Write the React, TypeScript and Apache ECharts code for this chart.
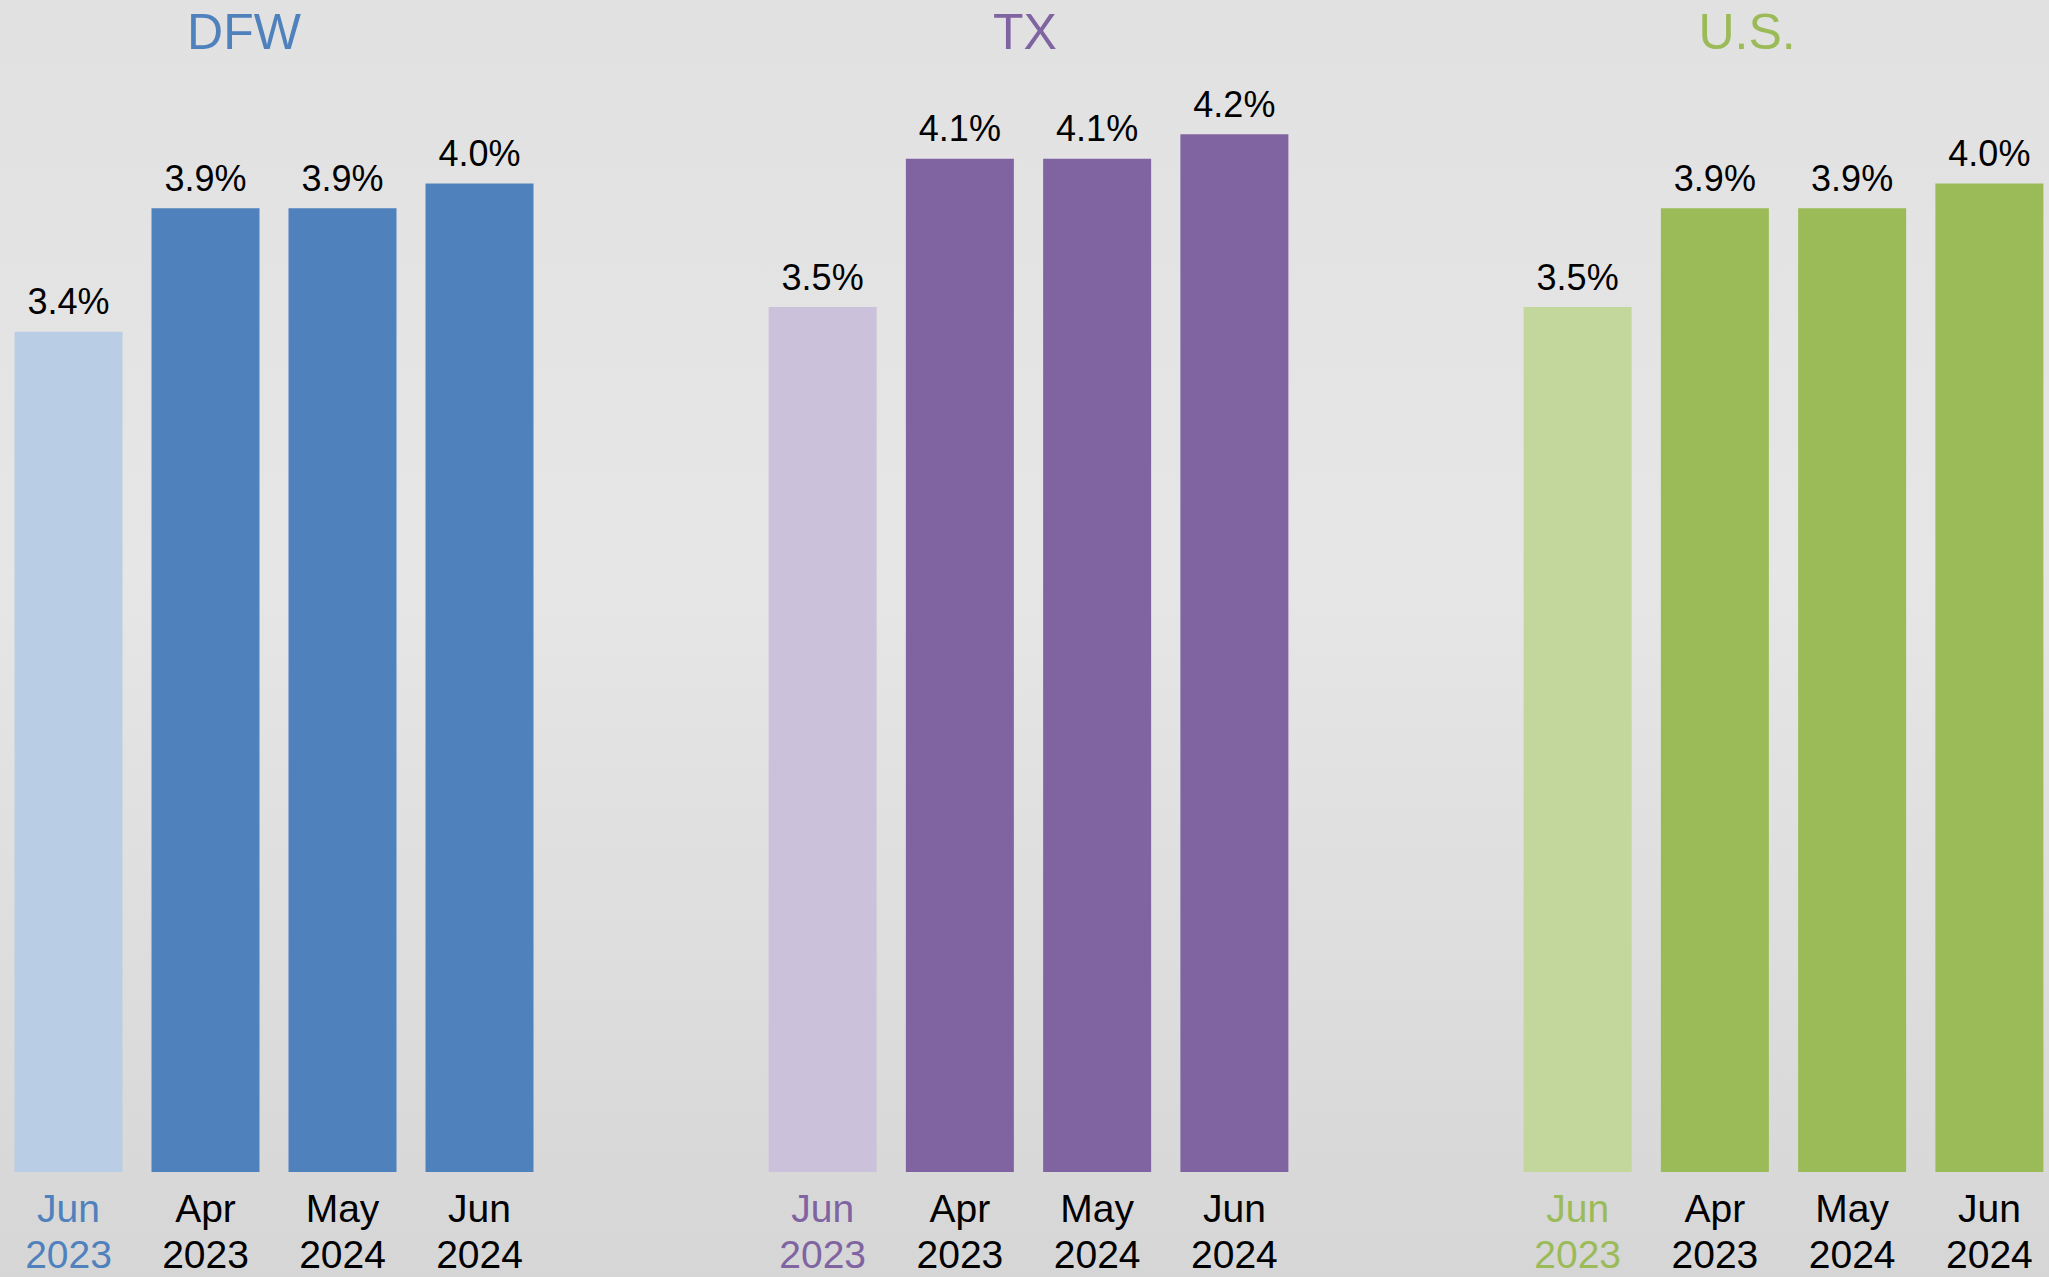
import React, { useEffect, useRef } from "react";
import * as echarts from "echarts";

const regions = ["DFW", "TX", "U.S."];
const categories = ["Jun\n2023", "Apr\n2023", "May\n2024", "Jun\n2024"];
const dfwValues = [3.4, 3.9, 3.9, 4.0];
const txValues = [3.5, 4.1, 4.1, 4.2];
const usValues = [3.5, 3.9, 3.9, 4.0];
const darkColors = ["#4F81BD", "#8064A2", "#9BBB59"];
const lightColors = ["#B9CDE5", "#CCC1DA", "#C3D69B"];

const FONT = "'Liberation Sans', Arial, Helvetica, sans-serif";

export default function App() {
  const ref = useRef<HTMLDivElement>(null);

  useEffect(() => {
    if (!ref.current) return;
    const chart = echarts.init(ref.current, null, { renderer: "svg" });
    const allValues = [dfwValues, txValues, usValues];
    const gridLefts = [-1, 754, 1509];
    const titleCenters = [244, 1025, 1747];

    const grids = gridLefts.map((l) => ({
      left: l,
      width: 549,
      top: 60,
      bottom: 100,
      containLabel: false,
    }));

    const xAxes = allValues.map((_, gi) => ({
      type: "category" as const,
      gridIndex: gi,
      data: categories.map((c, i) => ({
        value: c,
        textStyle: { color: i === 0 ? darkColors[gi] : "#000000" },
      })),
      axisLine: { show: false },
      axisTick: { show: false },
      axisLabel: {
        interval: 0,
        margin: 13,
        fontSize: 39,
        lineHeight: 46,
        fontFamily: FONT,
        color: "#000000",
      },
    }));

    const yAxes = allValues.map((_, gi) => ({
      type: "value" as const,
      gridIndex: gi,
      min: 0,
      max: 4.5,
      show: false,
      splitLine: { show: false },
    }));

    const series = allValues.map((vals, gi) => ({
      type: "bar" as const,
      name: regions[gi],
      xAxisIndex: gi,
      yAxisIndex: gi,
      barWidth: 108,
      data: vals.map((v, i) => ({
        value: v,
        itemStyle: { color: i === 0 ? lightColors[gi] : darkColors[gi] },
      })),
      label: {
        show: true,
        position: "top" as const,
        distance: 12,
        fontSize: 36,
        fontFamily: FONT,
        color: "#000000",
        formatter: (p: any) => Number(p.value).toFixed(1) + "%",
      },
    }));

    const graphic = regions.map((r, gi) => ({
      type: "text" as const,
      x: titleCenters[gi],
      y: 32,
      style: {
        text: r,
        fill: darkColors[gi],
        font: `50px ${FONT}`,
        align: "center",
        verticalAlign: "middle",
        textAlign: "center",
        textVerticalAlign: "middle",
      },
    }));

    chart.setOption({
      animation: false,
      backgroundColor: "transparent",
      grid: grids,
      xAxis: xAxes,
      yAxis: yAxes,
      series,
      graphic,
    });

    return () => chart.dispose();
  }, []);

  return (
    <div
      style={{
        position: "fixed",
        left: 0,
        top: 0,
        width: 2049,
        height: 1277,
        overflow: "hidden",
        background: "linear-gradient(to bottom, #e1e1e1 0%, #e6e6e6 45%, #d6d6d6 100%)",
      }}
    >
      <div ref={ref} style={{ width: 2120, height: 1277 }} />
    </div>
  );
}
